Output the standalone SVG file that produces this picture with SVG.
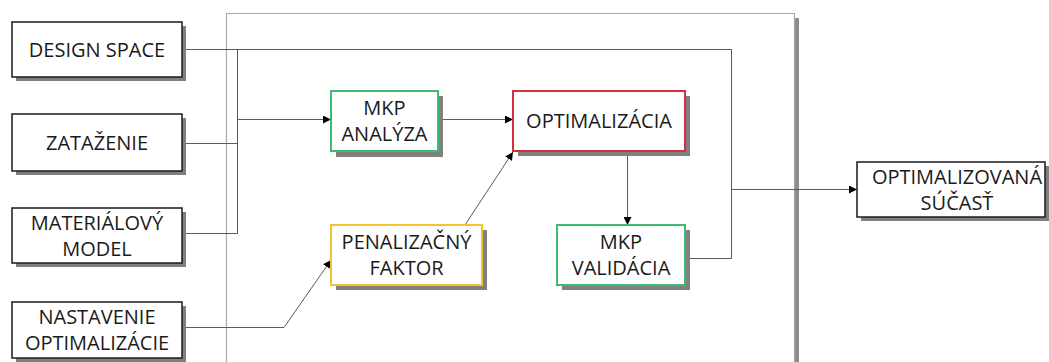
<svg xmlns="http://www.w3.org/2000/svg" width="1049" height="362" viewBox="0 0 1049 362">
<style>
text{font-family:"Open Sans","Noto Sans",sans-serif;font-size:20px;fill:#1a1a1a;text-anchor:middle}
.box{fill:#fff;stroke:#1a1a1a;stroke-width:1.5}
.sh{fill:#808080}
.g{fill:#fff;stroke:#3dba6f;stroke-width:2}
.r{fill:#fff;stroke:#d2303a;stroke-width:2}
.y{fill:#fff;stroke:#f4c22e;stroke-width:2}
.ln{fill:none;stroke:#5a5a5a;stroke-width:1}
.fr{fill:none;stroke:#a8a8a8;stroke-width:1.2}
</style>
<defs>
<marker id="ah" viewBox="0 0 10 10" refX="10" refY="5" markerWidth="8" markerHeight="8" markerUnits="userSpaceOnUse" orient="auto">
<path d="M0,0 L10,5 L0,10 z" fill="#000"/>
</marker>
</defs>
<g id="frame">
<rect x="795" y="18" width="4" height="344" fill="#8c8c8c"/>
<path class="fr" d="M226.5,362 V13.5 H794.5 V362"/>
</g>
<g id="connectors">
<path class="ln" d="M182,49.5 H731.5 V258.5 H685"/>
<path class="ln" d="M182,143.5 H237.5"/>
<path class="ln" d="M182,233.5 H237.5 V49.5"/>
<path class="ln" d="M237.5,119.5 H331" marker-end="url(#ah)"/>
<path class="ln" d="M438,119.5 H513" marker-end="url(#ah)"/>
<path class="ln" d="M465,225 L513,152" marker-end="url(#ah)"/>
<path class="ln" d="M182,327.5 H284 L331,260" marker-end="url(#ah)"/>
<path class="ln" d="M627.5,151 V225" marker-end="url(#ah)"/>
<path class="ln" d="M731.5,189.5 H857" marker-end="url(#ah)"/>
</g>
<g id="design-space">
<rect class="sh" x="16" y="26" width="170" height="55"/>
<rect class="box" x="12" y="22" width="170" height="55"/>
<text x="97" y="57">DESIGN SPACE</text>
</g>
<g id="zatazenie">
<rect class="sh" x="16" y="118" width="170" height="57"/>
<rect class="box" x="12" y="114" width="170" height="57"/>
<text x="97" y="150">ZATAŽENIE</text>
</g>
<g id="materialovy-model">
<rect class="sh" x="16" y="212" width="170" height="55"/>
<rect class="box" x="12" y="208" width="170" height="55"/>
<text x="97" y="229.5">MATERIÁLOVÝ</text>
<text x="97" y="255.5">MODEL</text>
</g>
<g id="nastavenie">
<rect class="sh" x="16" y="306" width="170" height="56"/>
<rect class="box" x="12" y="302" width="170" height="56"/>
<text x="97" y="323.5">NASTAVENIE</text>
<text x="97" y="349.5">OPTIMALIZÁCIE</text>
</g>
<g id="mkp-analyza">
<rect class="sh" x="336" y="96" width="107" height="61"/>
<rect class="g" x="331" y="91" width="107" height="60"/>
<text x="384.5" y="114.5">MKP</text>
<text x="384.5" y="140.5">ANALÝZA</text>
</g>
<g id="optimalizacia">
<rect class="sh" x="518" y="96" width="172" height="60"/>
<rect class="r" x="513" y="91" width="172" height="60"/>
<text x="599" y="128">OPTIMALIZÁCIA</text>
</g>
<g id="penalizacny-faktor">
<rect class="sh" x="336" y="230" width="151" height="60"/>
<rect class="y" x="331" y="225" width="151" height="60"/>
<text x="406.5" y="248.5">PENALIZAČNÝ</text>
<text x="406.5" y="274.5">FAKTOR</text>
</g>
<g id="mkp-validacia">
<rect class="sh" x="562" y="230" width="128" height="60"/>
<rect class="g" x="557" y="225" width="128" height="60"/>
<text x="621" y="248.5">MKP</text>
<text x="621" y="274.5">VALIDÁCIA</text>
</g>
<g id="optimalizovana-sucast">
<rect class="sh" x="861" y="166" width="188" height="55"/>
<rect class="box" x="857" y="162" width="188" height="55"/>
<text x="957" y="183.5">OPTIMALIZOVANÁ</text>
<text x="957" y="209.5">SÚČASŤ</text>
</g>
</svg>
